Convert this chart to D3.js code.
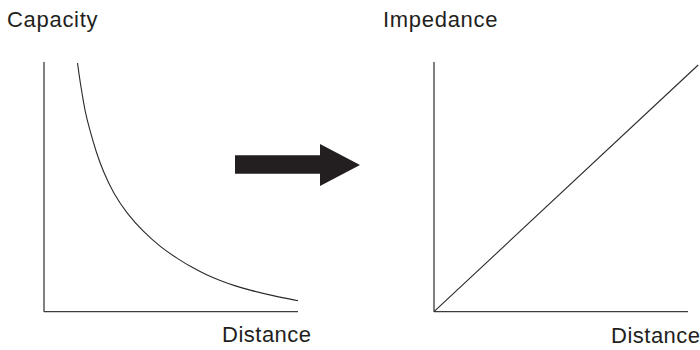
<!DOCTYPE html>
<meta charset="utf-8">
<script src="https://d3js.org/d3.v7.min.js"></script>
<style>
  body { margin: 0; background: #fff; }
  text { font-family: "Liberation Sans", Arial, sans-serif; fill: #231f20; }
</style>
<div id="my_dataviz"></div>
<script>
  // capacity falls off with distance
  var capDist = [1.32, 1.41, 1.51, 1.61, 1.80, 2.07, 2.33, 2.73, 3.26, 3.91, 4.57, 5.29, 5.85, 6.41, 6.93, 7.50, 8.11, 9.0, 10.0];
  var capValue = [9.96, 9.28, 8.68, 8.05, 7.28, 6.34, 5.62, 4.74, 3.94, 3.20, 2.60, 2.10, 1.76, 1.47, 1.25, 1.04, 0.86, 0.64, 0.44];

  // impedance grows linearly with distance
  var impDist = [0, 10.4];
  var impValue = [0, 9.88];

  var panelTitles = ["Capacity", "Impedance"];
  var axisLabels = ["Distance", "Distance"];

  // arrow outline in its own unit box
  var arrowX = [0, 0.68, 0.68, 1, 0.68, 0.68, 0];
  var arrowY = [0.27, 0.27, 0, 0.5, 1, 0.71, 0.71];

  var width = 700, height = 350;

  var svg = d3.select("#my_dataviz")
    .append("svg")
      .attr("width", width)
      .attr("height", height);

  var y = d3.scaleLinear().domain([0, 10]).range([311.7, 62]);
  var xLeft = d3.scaleLinear().domain([0, 10]).range([44, 298]);
  var xRight = d3.scaleLinear().domain([0, 10]).range([434, 688]);

  function drawAxes(x) {
    var g = svg.append("g");
    // y axis
    g.append("line")
      .attr("x1", x(0)).attr("x2", x(0))
      .attr("y1", y(10)).attr("y2", y(0))
      .attr("stroke", "#3c3c3c").attr("stroke-width", 1.3);
    // x axis
    g.append("line")
      .attr("x1", x(0)).attr("x2", x(10))
      .attr("y1", y(0)).attr("y2", y(0))
      .attr("stroke", "#3c3c3c").attr("stroke-width", 1.3);
  }
  drawAxes(xLeft);
  drawAxes(xRight);

  // left curve
  var capData = capDist.map(function(d, i) { return [d, capValue[i]]; });
  svg.append("path")
    .datum(capData)
    .attr("fill", "none")
    .attr("stroke", "#2a2a2a")
    .attr("stroke-width", 1.1)
    .attr("d", d3.line()
      .curve(d3.curveBasis)
      .x(function(d) { return xLeft(d[0]); })
      .y(function(d) { return y(d[1]); }));

  // right line
  var impData = impDist.map(function(d, i) { return [d, impValue[i]]; });
  svg.append("path")
    .datum(impData)
    .attr("fill", "none")
    .attr("stroke", "#2a2a2a")
    .attr("stroke-width", 1.1)
    .attr("d", d3.line()
      .x(function(d) { return xRight(d[0]); })
      .y(function(d) { return y(d[1]); }));

  // block arrow between the panels
  var ax = d3.scaleLinear().domain([0, 1]).range([235, 360]);
  var ay = d3.scaleLinear().domain([0, 1]).range([144, 186]);
  var arrowLine = d3.line()
    .x(function(d) { return ax(d[0]); })
    .y(function(d) { return ay(d[1]); });
  svg.append("path")
    .datum(arrowX.map(function(d, i) { return [d, arrowY[i]]; }))
    .attr("fill", "#231f20")
    .attr("d", function(d) { return arrowLine(d) + "Z"; });

  // titles
  svg.append("text")
    .attr("x", 7).attr("y", 27)
    .style("font-size", "22px")
    .style("letter-spacing", "0.7px")
    .text(panelTitles[0]);
  svg.append("text")
    .attr("x", 383).attr("y", 27)
    .style("font-size", "22px")
    .style("letter-spacing", "0.7px")
    .text(panelTitles[1]);

  // x labels
  svg.append("text")
    .attr("x", 222).attr("y", 342)
    .style("font-size", "22px")
    .style("letter-spacing", "0.5px")
    .text(axisLabels[0]);
  svg.append("text")
    .attr("x", 611).attr("y", 342.5)
    .style("font-size", "22px")
    .style("letter-spacing", "0.5px")
    .text(axisLabels[1]);
</script>
